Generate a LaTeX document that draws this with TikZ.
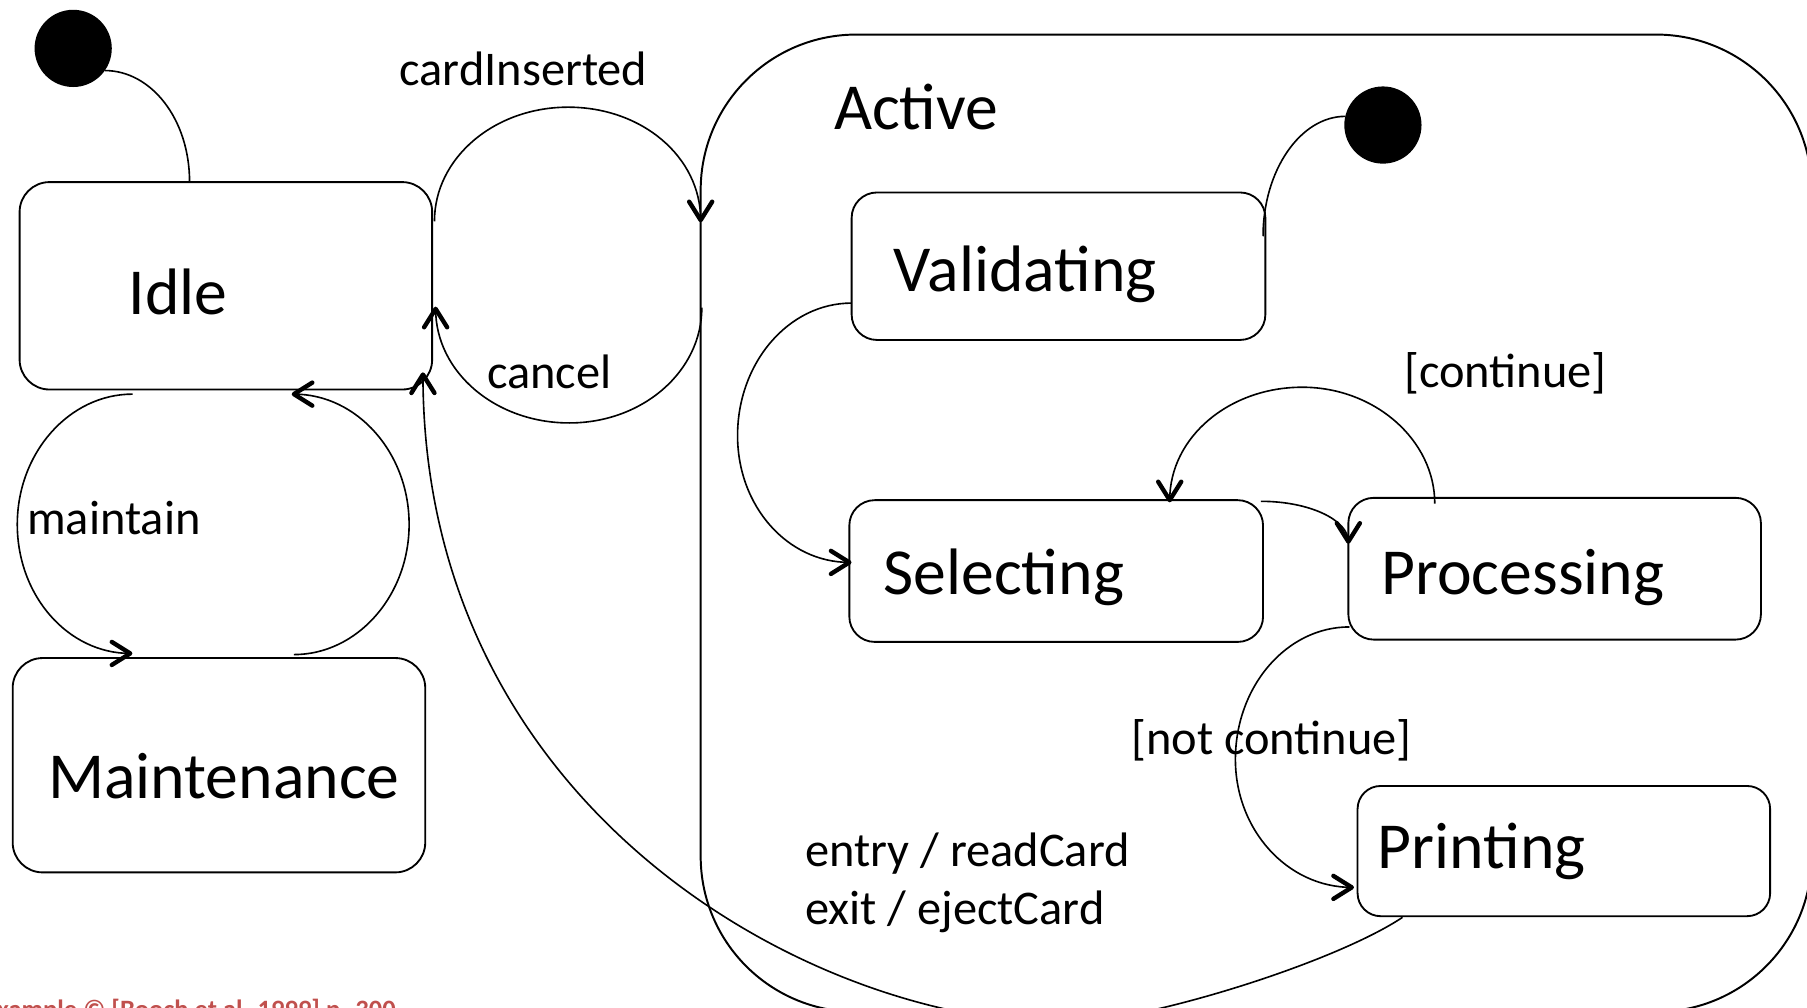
\documentclass[tikz,border=0pt]{standalone}
\usepackage{fontspec}
\setmainfont{Carlito}
\usetikzlibrary{calc}
\definecolor{creditred}{RGB}{192,80,77}

\begin{document}
\begin{tikzpicture}[x=1bp,y=-1bp,
  line width=1.4bp,
  state/.style={draw, rounded corners=26bp, line width=1.6bp, inner sep=0pt, outer sep=0pt},
  inner/.style={state, rounded corners=22bp},
  initial/.style={circle, fill=black, minimum size=67bp, inner sep=0pt, outer sep=0pt},
  big/.style={font=\fontsize{57bp}{60bp}\selectfont, anchor=base west, inner sep=0pt},
  lbl/.style={font=\fontsize{42bp}{50bp}\selectfont, anchor=base west, inner sep=0pt},
  % open V head, heavier than the transition line; points along +x before rotation
  head/.pic={\draw[line width=3.8bp, line cap=round, line join=round]
      (-16bp,10bp) -- (0bp,0bp) -- (-16bp,-10bp);},
]
\useasboundingbox (0,0) rectangle (1568,874);
\clip (0,0) rectangle (1568,874);

% composite state
\node[state, rounded corners=135bp, line width=1.7bp, minimum width=964bp, minimum height=848bp] (active) at (1090,454) {};

% simple states
\node[state, minimum width=358bp, minimum height=180bp] (idle) at (196,248) {};
\node[state, minimum width=358bp, minimum height=186bp] (maint) at (190,664) {};
\node[inner, minimum width=359bp, minimum height=128bp] (valid) at (918.5,231) {};
\node[inner, minimum width=359bp, minimum height=123bp] (select) at (916.5,495.5) {};
\node[inner, minimum width=358bp, minimum height=123bp] (proc) at (1349,493.5) {};
\node[inner, rounded corners=20bp, minimum width=358bp, minimum height=113bp] (print) at (1357,738.5) {};

% initial pseudostates
\node[initial] (start) at (63.5,42) {};
\node[initial] (start2) at (1200,108.5) {};

% state names
\node[big] (idle-t) at (111,273) {Idle};
\node[big] (maint-t) at (41,693) {Maintenance};
\node[big] (active-t) at (723,112) {Active};
\node[big] (valid-t) at (775,253) {Validating};
\node[big] (select-t) at (766,516) {Selecting};
\node[big] (proc-t) at (1198,516) {Processing};
\node[big] (print-t) at (1195,754) {Printing};

% transition labels and internal activities
\node[lbl] (l-card) at (346,74) {cardInserted};
\node[lbl] (l-cancel) at (422,337) {cancel};
\node[lbl] (l-maint) at (23,464) {maintain};
\node[lbl] (l-cont) at (1218,336) {[continue]};
\node[lbl] (l-notcont) at (981,655) {[not continue]};
\node[lbl] (l-entry) at (698,752) {entry / readCard};
\node[lbl] (l-exit) at (698,802) {exit / ejectCard};

% source reference along the bottom edge
\node[anchor=base east, inner sep=0pt, text=creditred,
      font=\fontsize{23bp}{28bp}\bfseries\selectfont] (credit) at (344,884)
      {Example © [Booch et al. 1999] p. 300};

% initial transitions
\draw (start.-35) .. controls +(40,0) and +(0,-55) .. ($(idle.north west)+(147.5,0)$);
\draw (start2.167) .. controls +(-39,0) and +(0,-57) .. ($(valid.north east)+(-2,38)$);

% cardInserted / cancel
\draw ($(idle.north east)+(2,34)$) .. controls +(0,-55) and +(-64,0) .. (493,93)
      .. controls +(64,0) and +(0,-55) .. ($(active.north west)+(0,161)$)
      pic[rotate=-90] {head};
\draw ($(active.north west)+(1,237)$) .. controls +(0,55) and +(64,0) .. (494,367)
      .. controls +(-64,0) and +(0,55) .. ($(idle.north east)+(3,110)$)
      pic[rotate=90] {head};

% maintain loop
\draw ($(idle.south west)+(98,4)$) .. controls +(-55,0) and +(0,-62) .. (15,455)
      .. controls +(0,62) and +(-54,0) .. ($(maint.north west)+(102,-4)$)
      pic {head};
\draw ($(maint.north west)+(244,-3)$) .. controls +(55,0) and +(0,62) .. (355,455)
      .. controls +(0,-62) and +(55,0) .. ($(idle.south west)+(238,4)$)
      pic[rotate=180] {head};

% inside Active
\draw ($(valid.north west)+(0,96)$) .. controls +(-55,0) and +(0,-63) .. (640,378)
      .. controls +(0,61) and +(-54,0) .. ($(select.north west)+(0,54)$)
      pic {head};
\draw ($(select.north east)+(-2,1)$) .. controls +(42,0) and +(0,-19) .. ($(proc.north west)+(0,38)$)
      pic[rotate=-90] {head};
\draw ($(proc.north west)+(75,5)$) .. controls +(0,-55) and +(63,0) .. (1130,336)
      .. controls +(-63,0) and +(0,-55) .. ($(select.north west)+(278,0)$)
      pic[rotate=-90] {head};
\draw ($(proc.south west)+(1,-11)$) .. controls +(-55,0) and +(0,-63) .. (1072,659)
      .. controls +(0,61) and +(-56,0) .. ($(print.north west)+(-5,88)$)
      pic {head};

% back to Idle, dipping below the lower edge
\draw ($(print.south west)+(39,1)$) .. controls +(-60,40) and +(70,0) .. (920,888)
      .. controls +(-220,-3) and +(0,375) .. ($(idle.south east)+(-8,-13)$)
      pic[rotate=90] {head};
\end{tikzpicture}
\end{document}
